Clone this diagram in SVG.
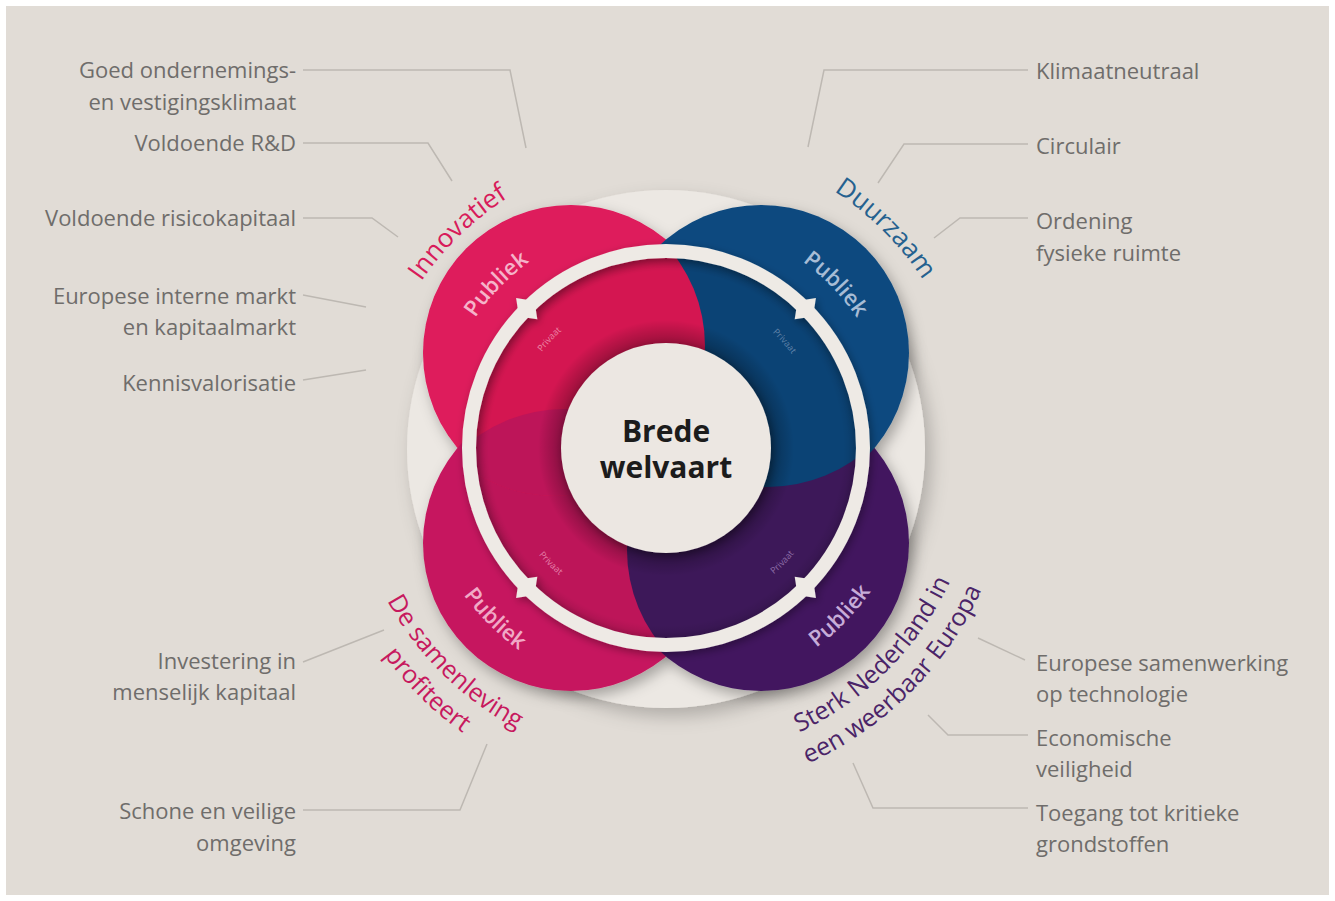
<svg xmlns="http://www.w3.org/2000/svg" width="1335" height="901" viewBox="0 0 1335 901">
<defs>
<style>
.lbl{font-family:"Open Sans","Noto Sans",sans-serif;font-size:22px;fill:#6f6d6b}
.end{text-anchor:end}
.conn{fill:none;stroke:#bdb8b2;stroke-width:1.5}
.title{font-family:"Open Sans","Noto Sans",sans-serif;font-size:26px}
.pub{font-family:"Open Sans","Noto Sans",sans-serif;font-size:22px;font-weight:600}
.priv{font-family:"Open Sans","Noto Sans",sans-serif;font-size:9px}
.ctr{font-family:"Open Sans","Noto Sans",sans-serif;font-size:30px;font-weight:700;fill:#1c1c1c;text-anchor:middle}
</style>
<filter id="shDisc" x="-20%" y="-20%" width="140%" height="140%"><feDropShadow dx="6" dy="8" stdDeviation="9" flood-color="#000" flood-opacity="0.22"/></filter>
<filter id="shPetal" x="-20%" y="-20%" width="140%" height="140%"><feDropShadow dx="4" dy="6" stdDeviation="7" flood-color="#000" flood-opacity="0.3"/></filter>
<filter id="shSmall" x="-20%" y="-20%" width="140%" height="140%"><feDropShadow dx="2" dy="3" stdDeviation="4" flood-color="#000" flood-opacity="0.35"/></filter>
<clipPath id="innerClip"><circle cx="666" cy="448" r="197"/></clipPath>
<clipPath id="pinkClip"><circle cx="555" cy="346" r="150"/></clipPath>
<radialGradient id="shade" cx="666" cy="448" r="197" gradientUnits="userSpaceOnUse">
<stop offset="0.53" stop-color="#000" stop-opacity="0.28"/>
<stop offset="0.65" stop-color="#000" stop-opacity="0"/>
<stop offset="0.9" stop-color="#000" stop-opacity="0"/>
<stop offset="1" stop-color="#000" stop-opacity="0.16"/>
</radialGradient>
<path id="notch" d="M-15,0 L0,-11 L15,0 L0,11 Z"/>
<path id="pInnov" d="M370.04,442.83 A296,296 0 0 1 671.17,152.04"/>
<path id="pDuur" d="M666,141 A307,307 0 0 1 973,448"/>
<path id="pSam1" d="M348.01,450.22 A318,318 0 0 0 668.22,765.99"/>
<path id="pSam2" d="M316.01,450.44 A350,350 0 0 0 668.44,797.99"/>
<path id="pSterk1" d="M666,762 A314,314 0 0 0 980,448"/>
<path id="pSterk2" d="M666,794 A346,346 0 0 0 1012,448"/>
<path id="pPubTL" d="M435.04,452.03 A231,231 0 0 1 661.97,217.04"/>
<path id="pPubTR" d="M670.03,217.04 A231,231 0 0 1 896.96,452.03"/>
<path id="pPubBL" d="M416,448 A250,250 0 0 0 666,698"/>
<path id="pPubBR" d="M670.36,697.96 A250,250 0 0 0 915.96,443.64"/>
<path id="pPrTL" d="M509.1,453.48 A157,157 0 0 1 660.52,291.1"/>
<path id="pPrTR" d="M674.22,291.22 A157,157 0 0 1 822.78,456.22"/>
<path id="pPrBL" d="M500,448 A166,166 0 0 0 666,614"/>
<path id="pPrBR" d="M667.45,614 A166,166 0 0 0 832,446.55"/>
</defs>

<rect x="0" y="0" width="1335" height="901" fill="#ffffff"/>
<rect x="6" y="6" width="1323" height="889" fill="#e1dcd6"/>

<g id="disc">
<circle cx="666" cy="449" r="259" fill="#ece8e3" filter="url(#shDisc)"/>
</g>

<g id="petals" filter="url(#shPetal)">
<circle id="petal-innovatief" cx="571" cy="353" r="148" fill="#de1a5b"/>
<circle id="petal-samenleving" cx="571" cy="543" r="148" fill="#c6195e"/>
<circle id="petal-sterk" cx="761" cy="543" r="148" fill="#42195f"/>
<circle id="petal-duurzaam" cx="761" cy="353" r="148" fill="#0e4a7f"/>
</g>

<g id="privaat-ring" clip-path="url(#innerClip)">
<circle cx="564" cy="559" r="150" fill="#bd1559"/>
<circle cx="777" cy="550" r="150" fill="#3d1859"/>
<circle cx="768" cy="337" r="150" fill="#0b4375"/>
<circle cx="555" cy="346" r="150" fill="#d41651"/>
<circle cx="564" cy="559" r="150" fill="#bd1559" clip-path="url(#pinkClip)"/>
<circle cx="666" cy="448" r="197" fill="url(#shade)"/>
</g>

<g id="ring" fill="#eeeae5" filter="url(#shSmall)">
<circle cx="666" cy="448" r="197" fill="none" stroke="#eeeae5" stroke-width="14"/>
<use href="#notch" transform="translate(526.7,308.7) rotate(45)"/>
<use href="#notch" transform="translate(805.3,308.7) rotate(-45)"/>
<use href="#notch" transform="translate(526.7,587.3) rotate(-45)"/>
<use href="#notch" transform="translate(805.3,587.3) rotate(45)"/>
</g>

<g id="center">
<circle cx="666" cy="448" r="105" fill="#ece7e2" filter="url(#shSmall)"/>
<text class="ctr" x="666" y="442">Brede</text>
<text class="ctr" x="666" y="478">welvaart</text>
</g>

<g id="innovatief">
<text class="title" fill="#d81b5a"><textPath href="#pInnov" startOffset="50%" text-anchor="middle">Innovatief</textPath></text>
<text class="pub" fill="#f5b3c9"><textPath href="#pPubTL" startOffset="50%" text-anchor="middle">Publiek</textPath></text>
<text class="priv" fill="#ec86a6"><textPath href="#pPrTL" startOffset="50%" text-anchor="middle">Privaat</textPath></text>
</g>

<g id="duurzaam">
<text class="title" fill="#25618f"><textPath href="#pDuur" startOffset="50%" text-anchor="middle">Duurzaam</textPath></text>
<text class="pub" fill="#a7bcd5"><textPath href="#pPubTR" startOffset="50%" text-anchor="middle">Publiek</textPath></text>
<text class="priv" fill="#5f82a8"><textPath href="#pPrTR" startOffset="50%" text-anchor="middle">Privaat</textPath></text>
</g>

<g id="samenleving">
<text class="title" fill="#c7195e" style="font-size:25px"><textPath href="#pSam1" startOffset="50%" text-anchor="middle">De samenleving</textPath></text>
<text class="title" fill="#c7195e" style="font-size:25px"><textPath href="#pSam2" startOffset="50%" text-anchor="middle">profiteert</textPath></text>
<text class="pub" fill="#f1a9c6"><textPath href="#pPubBL" startOffset="50%" text-anchor="middle">Publiek</textPath></text>
<text class="priv" fill="#e47fa8"><textPath href="#pPrBL" startOffset="50%" text-anchor="middle">Privaat</textPath></text>
</g>

<g id="sterk">
<text class="title" fill="#4b2468" style="font-size:25px"><textPath href="#pSterk1" startOffset="50%" text-anchor="middle">Sterk Nederland in</textPath></text>
<text class="title" fill="#4b2468" style="font-size:25px"><textPath href="#pSterk2" startOffset="50%" text-anchor="middle">een weerbaar Europa</textPath></text>
<text class="pub" fill="#c6acd8"><textPath href="#pPubBR" startOffset="50%" text-anchor="middle">Publiek</textPath></text>
<text class="priv" fill="#8d6ea8"><textPath href="#pPrBR" startOffset="50%" text-anchor="middle">Privaat</textPath></text>
</g>

<g id="connectors">
<polyline class="conn" points="303,70 510,70 526,148"/>
<polyline class="conn" points="303,143 428,143 452,181"/>
<polyline class="conn" points="303,218 372,218 398,237"/>
<polyline class="conn" points="303,295 366,307"/>
<polyline class="conn" points="303,380 366,370"/>
<polyline class="conn" points="303,662 384,630"/>
<polyline class="conn" points="303,810 460,810 487,744"/>
<polyline class="conn" points="1028,70 824,70 808,147"/>
<polyline class="conn" points="1028,144 904,144 878,183"/>
<polyline class="conn" points="1028,218 960,218 934,238"/>
<polyline class="conn" points="1025,660 978,638"/>
<polyline class="conn" points="1028,735 948,735 928,715"/>
<polyline class="conn" points="1028,808 873,808 853,763"/>
</g>

<g id="labels-left">
<g id="lbl-ondernemingsklimaat"><text class="lbl end" x="296" y="78">Goed ondernemings-</text><text class="lbl end" x="296" y="110">en vestigingsklimaat</text></g>
<g id="lbl-rd"><text class="lbl end" x="296" y="151">Voldoende R&amp;D</text></g>
<g id="lbl-risicokapitaal"><text class="lbl end" x="296" y="226">Voldoende risicokapitaal</text></g>
<g id="lbl-interne-markt"><text class="lbl end" x="296" y="304">Europese interne markt</text><text class="lbl end" x="296" y="335">en kapitaalmarkt</text></g>
<g id="lbl-kennisvalorisatie"><text class="lbl end" x="296" y="391">Kennisvalorisatie</text></g>
<g id="lbl-menselijk-kapitaal"><text class="lbl end" x="296" y="669">Investering in</text><text class="lbl end" x="296" y="700">menselijk kapitaal</text></g>
<g id="lbl-omgeving"><text class="lbl end" x="296" y="819">Schone en veilige</text><text class="lbl end" x="296" y="851">omgeving</text></g>
</g>

<g id="labels-right">
<g id="lbl-klimaatneutraal"><text class="lbl" x="1036" y="79">Klimaatneutraal</text></g>
<g id="lbl-circulair"><text class="lbl" x="1036" y="154">Circulair</text></g>
<g id="lbl-ordening"><text class="lbl" x="1036" y="229">Ordening</text><text class="lbl" x="1036" y="261">fysieke ruimte</text></g>
<g id="lbl-samenwerking"><text class="lbl" x="1036" y="671">Europese samenwerking</text><text class="lbl" x="1036" y="702">op technologie</text></g>
<g id="lbl-economische-veiligheid"><text class="lbl" x="1036" y="746">Economische</text><text class="lbl" x="1036" y="777">veiligheid</text></g>
<g id="lbl-grondstoffen"><text class="lbl" x="1036" y="821">Toegang tot kritieke</text><text class="lbl" x="1036" y="852">grondstoffen</text></g>
</g>
</svg>
